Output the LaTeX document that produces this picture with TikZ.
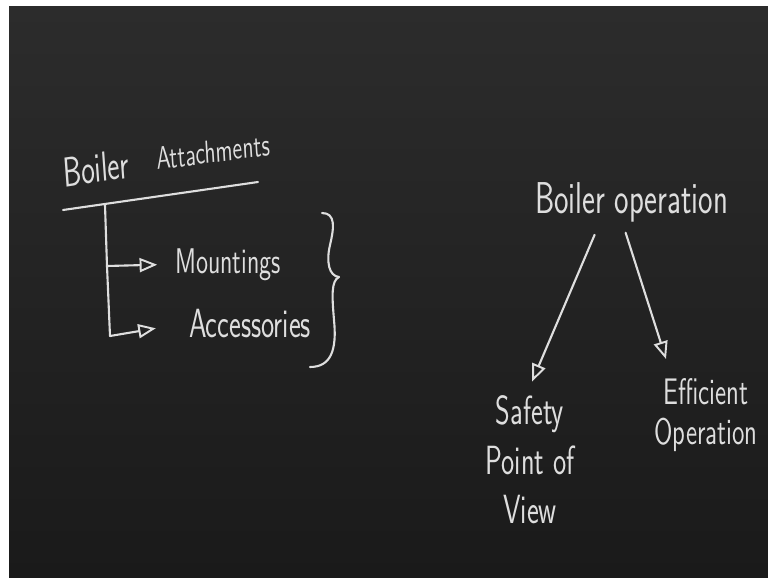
\documentclass[tikz,border=0pt]{standalone}
\usepackage{tikz}
\usetikzlibrary{arrows.meta}
\definecolor{boardtop}{RGB}{44,44,44}
\definecolor{boardlow}{RGB}{26,26,26}
\definecolor{chalk}{RGB}{222,222,222}

\begin{document}
\begin{tikzpicture}[x=0.02cm,y=-0.02cm,
	chalk/.style={text=chalk,inner sep=1pt,yscale=1.45,font=\sffamily\fontsize{16}{18}\selectfont},
	stroke/.style={draw=chalk,line width=1.2pt,line cap=round,line join=round},
	pointer/.style={stroke,-{Triangle[open,length=10pt,width=8pt,line width=1.1pt]}}]
	\useasboundingbox (0,0) rectangle (768,578);
	\fill[white] (0,0) rectangle (768,578);
	\shade[top color=boardtop,bottom color=boardlow] (9,6) rectangle (768,578);
	% heading on the left
	\node[chalk,anchor=base west,rotate=6,font=\sffamily\fontsize{16.5}{18}\selectfont] (boiler) at (62,188) {Boiler};
	\node[chalk,anchor=base west,rotate=5,font=\sffamily\fontsize{12.5}{14}\selectfont] (attach) at (155,170) {Attachments};
	\coordinate (ula) at (63,210);
	\coordinate (ulb) at (258,182);
	\draw[stroke] (ula)--(ulb);
	% the two kinds
	\node[chalk,anchor=base west,font=\sffamily\fontsize{14}{16}\selectfont] (mount) at (173,273) {Mountings};
	\node[chalk,anchor=base west] (acc) at (187,337) {Accessories};
	\coordinate (stemtop) at (105,205);
	\coordinate (stemmid) at (107,266);
	\coordinate (stembot) at (110,336);
	\draw[stroke] (stemtop)--(stemmid)--(stembot);
	\draw[pointer,shorten >=9pt] (stemmid)--(mount.west);
	\draw[pointer,shorten >=18pt] (stembot)--(acc.west);
	% brace
	\draw[stroke] (322,213) .. controls (336,213) and (334,228) .. (330,245)
		.. controls (326,262) and (329,276) .. (339,277);
	\draw[stroke] (339,277) .. controls (331,281) and (332,296) .. (334,320)
		.. controls (337,350) and (331,367) .. (310,367);
	% right side
	\node[chalk,anchor=base west,font=\sffamily\fontsize{17.5}{19}\selectfont] (op) at (533,213) {Boiler operation};
	\node[chalk,align=center,font=\sffamily\fontsize{16}{19.5}\selectfont] (safety) at (530,460) {Safety\\Point of\\View};
	\node[chalk,align=center,font=\sffamily\fontsize{14.5}{16}\selectfont] (eff) at (706,415) {Efficient\\Operation};
	\draw[pointer] ([shift={(-37,10)}]op.south)--([shift={(2,-11)}]safety.north);
	\draw[pointer] ([shift={(-6,8)}]op.south)--([shift={(-40,-16)}]eff.north);
\end{tikzpicture}
\end{document}
